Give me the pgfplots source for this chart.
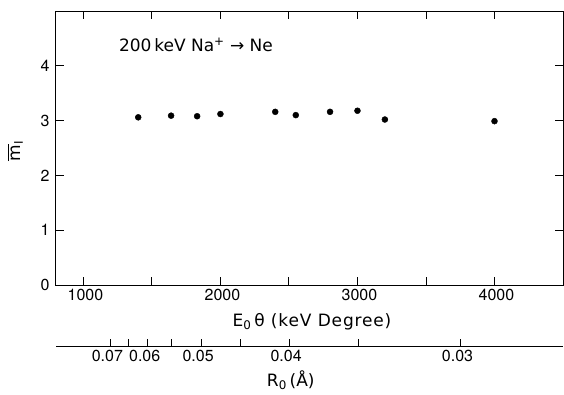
\documentclass[border=0pt]{standalone}
\usepackage{amsmath}
\usepackage{pgfplots}
\pgfplotsset{compat=1.18}
\usepackage{fontspec}
\setmainfont{TeX Gyre Heros}
\newfontfamily\dv{DejaVu Sans}
\newfontfamily\dvx[LetterSpace=5]{DejaVu Sans}
\pgfplotsset{every axis/.append style={font=\fontsize{16}{19}\selectfont}}
\begin{document}
\begin{tikzpicture}[font=\fontsize{16}{19}\selectfont]
\begin{axis}[
  name=main,
  at={(0,0)}, anchor=south west,
  scale only axis, width=507pt, height=274pt,
  xmin=800, xmax=4500, ymin=0, ymax=5,
  xtick={1000,2000,3000,4000},
  minor xtick={1500,2500,3500},
  ytick={0,1,2,3,4},
  tick align=inside,
  major tick length=8pt, minor tick length=8pt,
  tick style={line width=0.9pt, black},
  axis line style={line width=1pt},
  /pgf/number format/assume math mode=true,
  /pgf/number format/1000 sep={},
  xticklabel style={yshift=-1pt, xshift=2pt},
  yticklabel style={xshift=-3pt},
  xlabel={\fontsize{17}{20}\dvx E\textsubscript{0}\,θ\ (keV\ Degree)},
  xlabel style={at={(axis description cs:0.505,0)}, anchor=center, yshift=-37pt},
  ylabel={\fontsize{17}{20}\dv \(\overline{\hbox{m}}\)\textsubscript{I}},
  ylabel style={at={(axis description cs:-0.081,0.49)}, anchor=center},
  clip=false,
]
\addplot[only marks, mark=*, mark size=3pt, black] coordinates {
  (1400,3.06) (1640,3.09) (1830,3.08) (2000,3.12) (2400,3.16)
  (2550,3.10) (2800,3.16) (3000,3.18) (3200,3.02) (4000,2.99)
};
\node[anchor=base west, inner sep=0, font=\fontsize{17}{20}\dv] at (rel axis cs:0.124,0.851) {200\,keV\ Na\textsuperscript{+} → Ne};
\end{axis}
\begin{axis}[
  at={(0,-61pt)}, anchor=south west,
  scale only axis, width=507pt, height=20pt,
  xmin=800, xmax=4500, ymin=0, ymax=1,
  axis x line*=bottom, axis y line=none,
  axis line style={-, line width=1pt},
  tick align=inside,
  major tick length=7pt,
  tick style={line width=0.9pt, black},
  xtick={1197,1326,1469,1645,1859,2144,2501,3005,3752},
  xticklabels={0.07,,0.06,,0.05,,0.04,,0.03},
  xticklabel style={yshift=-1pt, xshift=-3pt},
  xlabel={\fontsize{17}{20}\dv R\textsubscript{0}\,(Å)},
  xlabel style={at={(axis description cs:0.463,0)}, anchor=center, yshift=-34pt},
]
\addplot[draw=none] coordinates {(1000,0.5)};
\end{axis}
\pgfresetboundingbox
\path[use as bounding box] (-56pt,-109pt) rectangle (508pt,285pt);
\end{tikzpicture}
\end{document}
